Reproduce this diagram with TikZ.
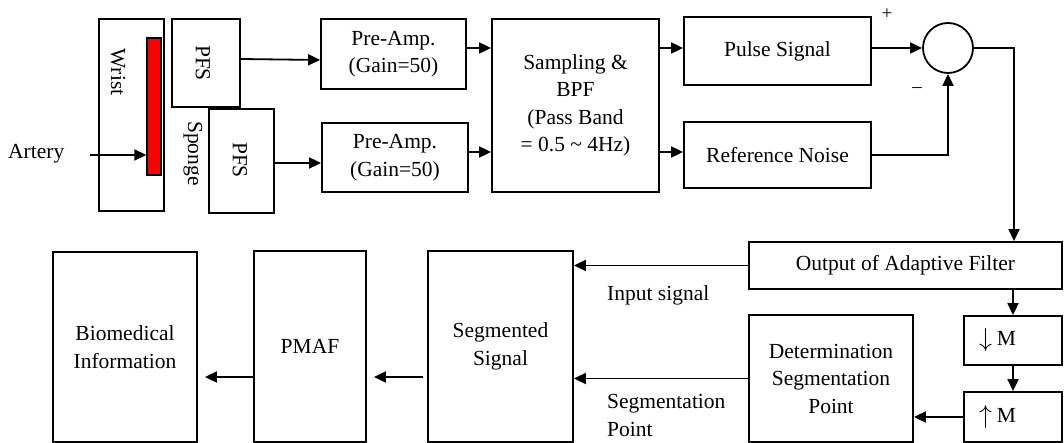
\documentclass[tikz,border=0pt]{standalone}
\usepackage{fontspec}
\setmainfont{Liberation Serif}
\usetikzlibrary{arrows.meta,calc}

\newcommand{\bigarrow}[1]{\raisebox{-1pt}{\scalebox{1.25}{$#1$}}\hspace{5pt}}

\begin{document}
\begin{tikzpicture}[x=1pt,y=-1pt,
  every node/.style={font=\fontsize{21.5}{27.5}\selectfont},
  box/.style={draw,line width=1.8pt,inner sep=0pt,align=center},
  arr/.style={line width=1.8pt,-{Triangle[length=12pt,width=11pt]}},
  vtext/.style={rotate=-90,inner sep=0pt},
  small/.style={font=\fontsize{19}{21}\selectfont,inner sep=0pt}
]
\useasboundingbox (0,0) rectangle (1064,443);

% sensor at the wrist
\node[box,minimum width=65pt,minimum height=192pt] (wrist) at (131.5,115) {};
\node[vtext] (wristlbl) at (118,72) {Wrist};
\node[draw,line width=1.4pt,fill=red,minimum width=14pt,minimum height=137pt,inner sep=0pt] (bar) at (154,106.5) {};
\node[box,minimum width=68pt,minimum height=88pt] (pfs1) at (206,63) {};
\node[vtext] (pfs1lbl) at (203,63) {PFS};
\node[box,minimum width=65pt,minimum height=104pt] (pfs2) at (241.5,161) {};
\node[vtext] (pfs2lbl) at (240,160) {PFS};
\node[vtext] (sponge) at (193,153.5) {Sponge};
\node[anchor=west,inner sep=0pt] (artery) at (8,154) {Artery};
\coordinate (artin) at (90,155);

% front end
\node[box,minimum width=145pt,minimum height=70pt] (pre1) at (393.5,54) {Pre-Amp.\\(Gain=50)};
\node[box,minimum width=146pt,minimum height=69pt] (pre2) at (395,157.5) {Pre-Amp.\\(Gain=50)};
\node[box,minimum width=167pt,minimum height=173pt] (samp) at (575.5,105.5)
  {Sampling \&\\BPF\\(Pass Band\\= 0.5 \textasciitilde{} 4Hz)};
\node[box,minimum width=187pt,minimum height=68pt] (pulse) at (777.5,51) {Pulse Signal};
\node[box,minimum width=187pt,minimum height=66pt] (noise) at (777.5,155) {Reference Noise};
\node[circle,draw,line width=1.8pt,minimum size=50pt,inner sep=0pt] (sum) at (948,48) {};
\node[small] (plus) at (887,14) {+};
\node[small] (minus) at (917,90) {–};

% back end
\node[box,minimum width=313pt,minimum height=47pt] (out) at (905.5,265.5) {Output of Adaptive Filter};
\node[box,text width=68pt,inner xsep=15pt,align=left,minimum height=49pt] (down) at (1013,340.5) {\bigarrow{\downarrow}M};
\node[box,text width=68pt,inner xsep=15pt,align=left,minimum height=50pt] (up) at (1013,417) {\bigarrow{\uparrow}M};
\node[box,minimum width=164pt,minimum height=127pt] (det) at (831,378.5) {Determination\\Segmentation\\Point};
\node[box,minimum width=145pt,minimum height=191pt] (seg) at (500.5,346.5) {Segmented\\Signal};
\node[box,minimum width=112pt,minimum height=191pt] (pmaf) at (310,346.5) {PMAF};
\node[box,minimum width=144pt,minimum height=190pt] (bio) at (125,347) {Biomedical\\Information};
\node[anchor=west,inner sep=0pt] (inlbl) at (607,295) {Input signal};
\node[anchor=west,inner sep=0pt,align=left] (seglbl) at (607,415.5) {Segmentation\\Point};

% connectors
\draw[arr] (artin) -- (artin -| bar.west);
\draw[arr] ($(pfs1.east)+(0,-4)$) -- ($(pre1.west)+(0,6)$);
\draw[arr] ($(pfs2.east)+(0,2)$) -- ($(pre2.west)+(0,5.5)$);
\coordinate (a1) at ($(pre1.east)+(0,-6)$);
\coordinate (a2) at ($(pre2.east)+(0,-5.5)$);
\draw[arr] (a1) -- (a1 -| samp.west);
\draw[arr] (a2) -- (a2 -| samp.west);
\coordinate (b1) at ($(pulse.west)+(0,-3)$);
\coordinate (b2) at ($(noise.west)+(0,-3)$);
\draw[arr] (b1 -| samp.east) -- (b1);
\draw[arr] (b2 -| samp.east) -- (b2);
\draw[arr] (pulse.east |- sum.west) -- (sum.west);
\draw[arr] (noise.east) -| (sum.south);
\coordinate (turn) at (1014,48);
\draw[arr] (sum.east) -- (turn) -- (turn |- out.north);
\draw[arr] (out.south -| down.north) -- (down.north);
\draw[arr] (down.south) -- (up.north);
\draw[arr] (up.west) -- (up.west -| det.east);
\draw[arr] (out.west) -- (out.west -| seg.east);
\draw[arr] (det.west) -- (det.west -| seg.east);
\coordinate (c1) at ($(seg.west)+(0,30.5)$);
\coordinate (c2) at ($(pmaf.west)+(0,30.5)$);
\draw[arr,shorten <=4pt,shorten >=7pt] (c1) -- (c1 -| pmaf.east);
\draw[arr,shorten >=7pt] (c2) -- (c2 -| bio.east);
\end{tikzpicture}
\end{document}
